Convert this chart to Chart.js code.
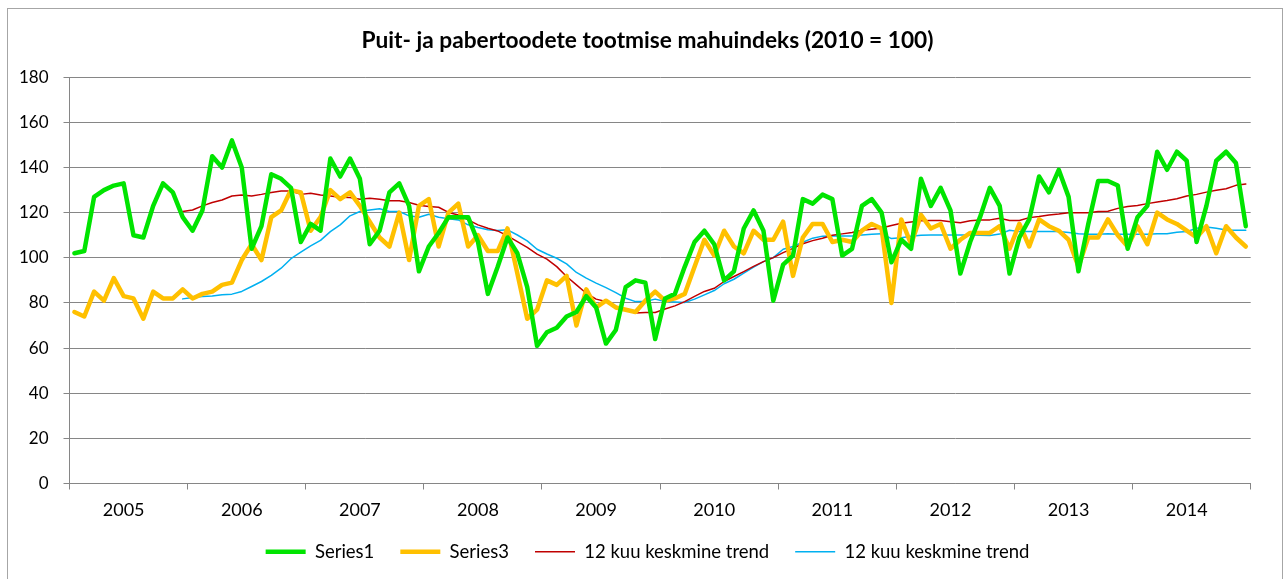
<!DOCTYPE html>
<html lang="et">
<head>
<meta charset="utf-8">
<title>Puit- ja pabertoodete tootmise mahuindeks</title>
<script src="https://cdn.jsdelivr.net/npm/chart.js@4.4.1/dist/chart.umd.min.js"></script>
<style>
  html, body { margin: 0; padding: 0; background: #fff; }
  body { width: 1287px; height: 579px; position: relative; overflow: hidden; }
  #raam { position: absolute; left: 7px; top: 8px; width: 1276px; height: 590px; border: 1px solid #a6a6a6; box-sizing: border-box; }
  #graafik { position: absolute; left: 0; top: 0; }
</style>
</head>
<body>
<div id="raam"></div>
<canvas id="graafik" width="1287" height="579"></canvas>
<script>
// Andmed (loetud pildilt), kuised väärtused 2005-2014
const aastad = [2005, 2006, 2007, 2008, 2009, 2010, 2011, 2012, 2013, 2014];
const kuud = ['01', '02', '03', '04', '05', '06', '07', '08', '09', '10', '11', '12'];

const series1 = [
  102, 103, 127, 130, 132, 133, 110, 109, 123, 133, 129, 118,
  112, 121, 145, 140, 152, 140, 104, 114, 137, 135, 131, 107,
  115, 112, 144, 136, 144, 135, 106, 112, 129, 133, 123, 94,
  105, 111, 118, 118, 118, 107, 84, 96, 109, 102, 87, 61,
  67, 69, 74, 76, 83, 78, 62, 68, 87, 90, 89, 64,
  82, 84, 96, 107, 112, 106, 90, 94, 113, 121, 112, 81,
  97, 101, 126, 124, 128, 126, 101, 104, 123, 126, 120, 98,
  108, 104, 135, 123, 131, 121, 93, 107, 118, 131, 123, 93,
  109, 117, 136, 129, 139, 127, 94, 115, 134, 134, 132, 104,
  118, 123, 147, 139, 147, 143, 107, 123, 143, 147, 142, 114
];

const series3 = [
  76, 74, 85, 81, 91, 83, 82, 73, 85, 82, 82, 86,
  82, 84, 85, 88, 89, 99, 106, 99, 118, 121, 130, 129,
  112, 118, 130, 126, 129, 123, 116, 109, 105, 120, 99, 123,
  126, 105, 120, 124, 105, 110, 103, 103, 113, 93, 73, 77,
  90, 88, 92, 70, 86, 78, 81, 78, 77, 76, 81, 85,
  81, 82, 84, 96, 108, 101, 112, 105, 102, 112, 108, 108,
  116, 92, 109, 115, 115, 107, 108, 107, 112, 115, 113, 80,
  117, 106, 119, 113, 115, 104, 108, 111, 111, 111, 114, 104,
  115, 105, 117, 114, 112, 108, 96, 109, 109, 117, 110, 105,
  114, 106, 120, 117, 115, 112, 109, 114, 102, 114, 109, 105
];

// 12 kuu keskmine trend (Series1)
const trend1 = [
  null, null, null, null, null, null, null, null, null, null, null, 120.5,
  121.2, 123, 124.5, 125.6, 127.4, 127.8, 127.4, 128.1, 128.9, 129.6, 129.6, 128.1,
  128.6, 127.8, 127.4, 126.8, 126.7, 125.9, 126.4, 125.9, 125.3, 125.3, 124.5, 123.3,
  122.7, 122.4, 120.1, 119, 116.8, 114.6, 113.1, 111.9, 109.7, 107.2, 104.6, 101.6,
  99.4, 96.1, 91.7, 88, 84.3, 81.7, 80.6, 78.4, 77, 75.5, 75.8, 75.8,
  77.3, 78.7, 80.6, 82.9, 85.1, 86.5, 89.5, 91.7, 93.9, 96.2, 98.3, 100.1,
  102.3, 104.2, 106.2, 107.6, 108.7, 110, 110.6, 111.2, 112.2, 112.7, 113.2, 114.3,
  115.3, 115.9, 116.4, 116.5, 116.5, 116, 115.5, 116.4, 116.7, 116.8, 117.5, 116.5,
  116.5, 117.8, 118.3, 119, 119.4, 120, 120, 120, 120.5, 120.6, 121.9, 122.7,
  123.2, 124, 124.7, 125.4, 126.2, 127.4, 128.1, 129.1, 129.9, 130.6, 132.1, 132.7
];

// 12 kuu keskmine trend (Series3)
const trend3 = [
  null, null, null, null, null, null, null, null, null, null, null, 81.8,
  82.4, 82.8, 83.1, 83.6, 83.9, 85.1, 87.3, 89.5, 92.2, 95.4, 99.6, 102.5,
  105.3, 107.7, 111.6, 114.6, 118.6, 120.5, 121.2, 121.7, 120.5, 120.5, 118.6, 118,
  119.3, 118, 117.3, 116.8, 114.6, 113.4, 112.4, 112.1, 112.4, 110.1, 107.5, 103.8,
  101.7, 99.8, 97.3, 93.5, 91, 88.8, 86.8, 84.6, 82.1, 80.6, 80.6, 81.7,
  80.6, 80.4, 80.2, 81.7, 83.6, 85.5, 88.5, 90.5, 93.2, 95.9, 98.3, 100.1,
  103.8, 105, 106.9, 108.7, 109.6, 109.7, 109.7, 109.7, 110.1, 110.4, 110.7, 108.5,
  108.9, 109.5, 110, 110.1, 110.1, 110.1, 110.1, 110.1, 110, 109.9, 110.5, 112.2,
  111.6, 111.6, 111.6, 111.6, 111.6, 111.2, 110.7, 110.4, 110.4, 110.7, 110.4, 110.4,
  110.4, 110.4, 110.7, 110.7, 111.3, 111.6, 113.1, 113.6, 113.1, 112.3, 112.2, 112.2
];

const yTicks = { min: 0, max: 180, step: 20 };

const sildid = aastad.flatMap(a => kuud.map(k => a + '-' + k));
const hall = '#868686';
const kiri = "Lato, 'Open Sans', sans-serif";

function joon(label, data, color, width) {
  return {
    label: label,
    data: data,
    borderColor: color,
    backgroundColor: color,
    borderWidth: width,
    pointRadius: 0,
    pointStyle: 'line',
    tension: 0,
    borderJoinStyle: 'round',
    borderCapStyle: 'round',
    spanGaps: false
  };
}

new Chart(document.getElementById('graafik'), {
  type: 'line',
  data: {
    labels: sildid,
    datasets: [
      joon('Series1', series1, '#00E400', 4.5),
      joon('Series3', series3, '#FFC000', 4.5),
      joon('12 kuu keskmine trend', trend1, '#C00000', 1.5),
      joon('12 kuu keskmine trend', trend3, '#00B0F0', 1.5)
    ]
  },
  options: {
    responsive: false,
    animation: false,
    // pealkiri ja legend on raami keskel, joonisala parem serv hoitakse tühja teljega
    layout: { padding: { top: 27, left: 8, right: 0, bottom: 8 } },
    plugins: {
      title: {
        display: true,
        text: 'Puit- ja pabertoodete tootmise mahuindeks (2010 = 100)',
        color: '#000',
        font: { family: kiri, size: 22.7, weight: 'bold' },
        padding: { top: 0, bottom: 23 }
      },
      legend: {
        position: 'bottom',
        labels: {
          usePointStyle: true,
          pointStyleWidth: 40,
          boxHeight: 4,
          padding: 26,
          color: '#000',
          font: { family: kiri, size: 18.5 }
        }
      },
      tooltip: { enabled: false }
    },
    scales: {
      x: {
        offset: true,
        grid: {
          offset: true,
          drawOnChartArea: false,
          tickLength: 6,
          color: c => (c.index === undefined || c.index % 12 === 0) ? hall : 'rgba(0,0,0,0)'
        },
        border: { color: hall },
        ticks: {
          autoSkip: false,
          maxRotation: 0,
          minRotation: 0,
          padding: 10,
          color: '#000',
          font: { family: kiri, size: 18 },
          callback: (v, i) => i % 12 === 5 ? String(aastad[Math.floor(i / 12)]) : ''
        },
        afterFit: s => { s.height = 33; }
      },
      y: {
        min: yTicks.min,
        max: yTicks.max,
        grid: { color: hall, tickLength: 6 },
        border: { color: hall },
        ticks: {
          stepSize: yTicks.step,
          padding: 15,
          color: '#000',
          font: { family: kiri, size: 17 }
        },
        afterFit: s => { s.width = 61.5; }
      },
      tyhi: {
        type: 'linear',
        axis: 'y',
        position: 'right',
        min: yTicks.min,
        max: yTicks.max,
        grid: { display: false, drawTicks: false },
        border: { display: false },
        ticks: { display: false },
        afterFit: s => { s.width = 36.3; }
      }
    }
  }
});
</script>
</body>
</html>
